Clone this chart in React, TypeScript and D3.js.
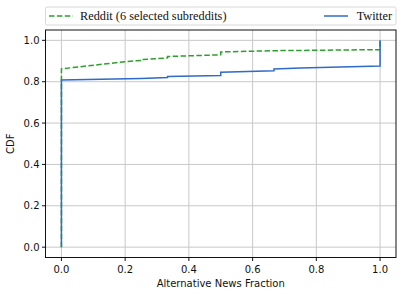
import React from "react";
import { scaleLinear, line } from "d3";

const width = 407, height = 297;
const margin = { left: 45.5, right: 11, top: 30, bottom: 39.5 };

// CDF points: [fraction, cdf]
const twitterX = [0, 0, 0.25, 0.333, 0.333, 0.5, 0.5, 0.667, 0.667, 0.75, 1.0, 1.0];
const twitterY = [0, 0.808, 0.815, 0.82, 0.825, 0.83, 0.846, 0.853, 0.862, 0.866, 0.876, 1.0];
const redditX = [0, 0, 0.2, 0.25, 0.25, 0.333, 0.333, 0.5, 0.5, 0.667, 1.0, 1.0];
const redditY = [0, 0.862, 0.897, 0.903, 0.907, 0.915, 0.922, 0.93, 0.944, 0.95, 0.955, 1.0];

const xTicks = [0, 0.2, 0.4, 0.6, 0.8, 1.0];
const yTicks = [0, 0.2, 0.4, 0.6, 0.8, 1.0];

const App = () => {
  const x = scaleLinear().domain([-0.05, 1.05]).range([margin.left, width - margin.right]);
  const y = scaleLinear().domain([-0.05, 1.05]).range([height - margin.bottom, margin.top]);

  const path = line<number[]>().x(d => x(d[0])).y(d => y(d[1]));
  const twitter = twitterX.map((v, i) => [v, twitterY[i]]);
  const reddit = redditX.map((v, i) => [v, redditY[i]]);

  const x0 = margin.left, x1 = width - margin.right;
  const y0 = margin.top, y1 = height - margin.bottom;
  const sans = "DejaVu Sans, sans-serif";
  const serif = "Liberation Serif, serif";

  return <svg width={width} height={height} style={{ position: "absolute", left: 0, top: 0 }}>
    <rect x={0} y={0} width={width} height={height} fill="white" />
    {/* grid */}
    {xTicks.map(t => <line key={"gx" + t} x1={x(t)} x2={x(t)} y1={y0} y2={y1} stroke="#c8c8c8" strokeWidth={1} />)}
    {yTicks.map(t => <line key={"gy" + t} x1={x0} x2={x1} y1={y(t)} y2={y(t)} stroke="#c8c8c8" strokeWidth={1} />)}
    {/* series */}
    <path d={path(reddit) || ""} fill="none" stroke="#2ca02c" strokeWidth={1.5} strokeDasharray="5.5,2.4" />
    <path d={path(twitter) || ""} fill="none" stroke="#2f6bc9" strokeWidth={1.5} />
    {/* frame */}
    <rect x={x0} y={y0} width={x1 - x0} height={y1 - y0} fill="none" stroke="#111" strokeWidth={1} />
    {/* ticks */}
    {xTicks.map(t => <g key={"tx" + t}>
      <line x1={x(t)} x2={x(t)} y1={y1} y2={y1 + 3.5} stroke="#111" />
      <text x={x(t)} y={y1 + 15} textAnchor="middle" fontFamily={sans} fontSize={10} fill="#111">{t.toFixed(1)}</text>
    </g>)}
    {yTicks.map(t => <g key={"ty" + t}>
      <line x1={x0 - 3.5} x2={x0} y1={y(t)} y2={y(t)} stroke="#111" />
      <text x={x0 - 6} y={y(t)} dy="0.35em" textAnchor="end" fontFamily={sans} fontSize={10} fill="#111">{t.toFixed(1)}</text>
    </g>)}
    <text x={(x0 + x1) / 2} y={287} textAnchor="middle" fontFamily={sans} fontSize={10} fill="#111">Alternative News Fraction</text>
    <text transform={`translate(14,${(y0 + y1) / 2}) rotate(-90)`} textAnchor="middle" fontFamily={sans} fontSize={10} fill="#111">CDF</text>
    {/* legend */}
    <rect x={x0} y={7} width={x1 - x0} height={18} fill="white" stroke="#d8d8d8" strokeWidth={1} rx={1.5} />
    <line x1={49} x2={73} y1={16} y2={16} stroke="#2ca02c" strokeWidth={1.5} strokeDasharray="5.5,2.4" />
    <text x={80} y={16} dy="0.33em" fontFamily={serif} fontSize={12.3} fill="#111">Reddit (6 selected subreddits)</text>
    <line x1={324} x2={348} y1={16} y2={16} stroke="#2f6bc9" strokeWidth={1.5} />
    <text x={392} y={16} dy="0.33em" textAnchor="end" fontFamily={serif} fontSize={12.3} fill="#111">Twitter</text>
  </svg>;
};

export default App;
